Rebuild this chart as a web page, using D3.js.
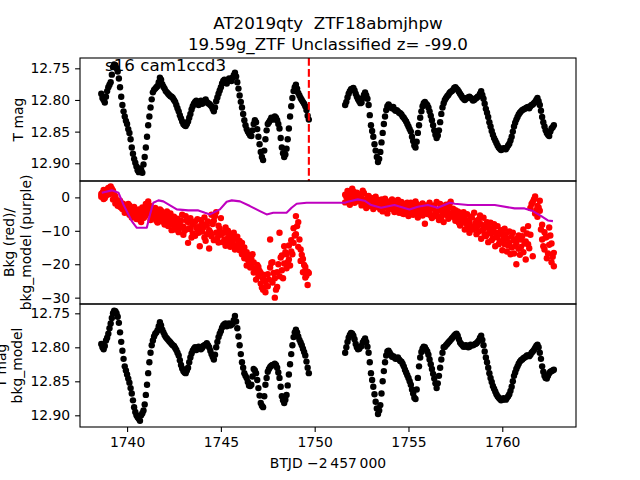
<!DOCTYPE html>
<html>
<head>
<meta charset="utf-8">
<script src="https://cdn.jsdelivr.net/npm/d3@7"></script>
<style>
  body { margin: 0; background: #fff; }
  svg { font-family: "DejaVu Sans", sans-serif; }
</style>
</head>
<body>
<div id="chart"></div>
<script>
// TESS light curve, sector 16 cam1 ccd3, two orbits (gap 1749.7 - 1751.6)
// cadences on the full steps
const times = [
  1738.625, 1738.75, 1738.875,
  1739, 1739.125, 1739.25, 1739.375, 1739.5, 1739.625, 1739.75, 1739.875,
  1740, 1740.125, 1740.25, 1740.375, 1740.5, 1740.625, 1740.75, 1740.875,
  1741, 1741.125, 1741.25, 1741.375, 1741.5, 1741.625, 1741.75, 1741.875,
  1742, 1742.125, 1742.25, 1742.375, 1742.5, 1742.625, 1742.75, 1742.875,
  1743, 1743.125, 1743.25, 1743.375, 1743.5, 1743.625, 1743.75, 1743.875,
  1744, 1744.125, 1744.25, 1744.375, 1744.5, 1744.625, 1744.75, 1744.875,
  1745, 1745.125, 1745.25, 1745.375, 1745.5, 1745.625, 1745.75, 1745.875,
  1746, 1746.125, 1746.25, 1746.375, 1746.5, 1746.625, 1746.75, 1746.875,
  1747, 1747.125, 1747.25, 1747.375, 1747.5, 1747.625, 1747.75, 1747.875,
  1748, 1748.125, 1748.25, 1748.375, 1748.5, 1748.625, 1748.75, 1748.875,
  1749, 1749.125, 1749.25, 1749.375, 1749.5, 1749.625,
  1751.625, 1751.75, 1751.875,
  1752, 1752.125, 1752.25, 1752.375, 1752.5, 1752.625, 1752.75, 1752.875,
  1753, 1753.125, 1753.25, 1753.375, 1753.5, 1753.625, 1753.75, 1753.875,
  1754, 1754.125, 1754.25, 1754.375, 1754.5, 1754.625, 1754.75, 1754.875,
  1755, 1755.125, 1755.25, 1755.375, 1755.5, 1755.625, 1755.75, 1755.875,
  1756, 1756.125, 1756.25, 1756.375, 1756.5, 1756.625, 1756.75, 1756.875,
  1757, 1757.125, 1757.25, 1757.375, 1757.5, 1757.625, 1757.75, 1757.875,
  1758, 1758.125, 1758.25, 1758.375, 1758.5, 1758.625, 1758.75, 1758.875,
  1759, 1759.125, 1759.25, 1759.375, 1759.5, 1759.625, 1759.75, 1759.875,
  1760, 1760.125, 1760.25, 1760.375, 1760.5, 1760.625, 1760.75, 1760.875,
  1761, 1761.125, 1761.25, 1761.375, 1761.5, 1761.625, 1761.75, 1761.875,
  1762, 1762.125, 1762.25, 1762.375, 1762.5, 1762.625, 1762.75
]
// cadences in between
const timesMid = [
  1738.6875, 1738.8125, 1738.9375,
  1739.0625, 1739.1875, 1739.3125, 1739.4375, 1739.5625, 1739.6875, 1739.8125, 1739.9375,
  1740.0625, 1740.1875, 1740.3125, 1740.4375, 1740.5625, 1740.6875, 1740.8125, 1740.9375,
  1741.0625, 1741.1875, 1741.3125, 1741.4375, 1741.5625, 1741.6875, 1741.8125, 1741.9375,
  1742.0625, 1742.1875, 1742.3125, 1742.4375, 1742.5625, 1742.6875, 1742.8125, 1742.9375,
  1743.0625, 1743.1875, 1743.3125, 1743.4375, 1743.5625, 1743.6875, 1743.8125, 1743.9375,
  1744.0625, 1744.1875, 1744.3125, 1744.4375, 1744.5625, 1744.6875, 1744.8125, 1744.9375,
  1745.0625, 1745.1875, 1745.3125, 1745.4375, 1745.5625, 1745.6875, 1745.8125, 1745.9375,
  1746.0625, 1746.1875, 1746.3125, 1746.4375, 1746.5625, 1746.6875, 1746.8125, 1746.9375,
  1747.0625, 1747.1875, 1747.3125, 1747.4375, 1747.5625, 1747.6875, 1747.8125, 1747.9375,
  1748.0625, 1748.1875, 1748.3125, 1748.4375, 1748.5625, 1748.6875, 1748.8125, 1748.9375,
  1749.0625, 1749.1875, 1749.3125, 1749.4375, 1749.5625, 1749.6875,
  1751.6875, 1751.8125, 1751.9375,
  1752.0625, 1752.1875, 1752.3125, 1752.4375, 1752.5625, 1752.6875, 1752.8125, 1752.9375,
  1753.0625, 1753.1875, 1753.3125, 1753.4375, 1753.5625, 1753.6875, 1753.8125, 1753.9375,
  1754.0625, 1754.1875, 1754.3125, 1754.4375, 1754.5625, 1754.6875, 1754.8125, 1754.9375,
  1755.0625, 1755.1875, 1755.3125, 1755.4375, 1755.5625, 1755.6875, 1755.8125, 1755.9375,
  1756.0625, 1756.1875, 1756.3125, 1756.4375, 1756.5625, 1756.6875, 1756.8125, 1756.9375,
  1757.0625, 1757.1875, 1757.3125, 1757.4375, 1757.5625, 1757.6875, 1757.8125, 1757.9375,
  1758.0625, 1758.1875, 1758.3125, 1758.4375, 1758.5625, 1758.6875, 1758.8125, 1758.9375,
  1759.0625, 1759.1875, 1759.3125, 1759.4375, 1759.5625, 1759.6875, 1759.8125, 1759.9375,
  1760.0625, 1760.1875, 1760.3125, 1760.4375, 1760.5625, 1760.6875, 1760.8125, 1760.9375,
  1761.0625, 1761.1875, 1761.3125, 1761.4375, 1761.5625, 1761.6875, 1761.8125, 1761.9375,
  1762.0625, 1762.1875, 1762.3125, 1762.4375, 1762.5625, 1762.6875
]

// T mag (top panel)
const tmag = [
  12.790, 12.800, 12.795,
  12.780, 12.772, 12.748, 12.745, 12.755, 12.780, 12.808, 12.826,
  12.838, 12.852, 12.875, 12.893, 12.905, 12.914, 12.910, 12.902,
  12.875, 12.840, 12.812, 12.788, 12.782, 12.778, 12.765, 12.775,
  12.782, 12.788, 12.792, 12.795, 12.800, 12.808, 12.818, 12.829,
  12.838, 12.841, 12.834, 12.822, 12.810, 12.803, 12.806, 12.804,
  12.806, 12.801, 12.803, 12.806, 12.810, 12.818, 12.802, 12.790,
  12.780, 12.770, 12.772, 12.770, 12.768, 12.765, 12.757, 12.772,
  12.793, 12.812, 12.832, 12.846, 12.853, 12.857, 12.838, 12.835,
  12.858, 12.882, 12.895, 12.862, 12.838, 12.832, 12.829, 12.826,
  12.832, 12.845, 12.875, 12.890, 12.877, 12.845, 12.810, 12.786,
  12.776, 12.789, 12.797, 12.803, 12.810, 12.825,
  12.808, 12.796, 12.786,
  12.782, 12.785, 12.795, 12.802, 12.804, 12.792, 12.793, 12.808,
  12.840, 12.858, 12.880, 12.898, 12.882, 12.852, 12.826, 12.810,
  12.810, 12.813, 12.815, 12.816, 12.820, 12.823, 12.828, 12.834,
  12.842, 12.850, 12.865, 12.875, 12.852, 12.828, 12.810, 12.803,
  12.808, 12.818, 12.832, 12.848, 12.860, 12.848, 12.822, 12.805,
  12.797, 12.792, 12.787, 12.784, 12.780, 12.784, 12.790, 12.796,
  12.800, 12.797, 12.795, 12.798, 12.800, 12.797, 12.794, 12.786,
  12.798, 12.814, 12.827, 12.842, 12.855, 12.864, 12.872, 12.877,
  12.878, 12.877, 12.875, 12.869, 12.858, 12.842, 12.831, 12.823,
  12.818, 12.815, 12.813, 12.811, 12.810, 12.807, 12.803, 12.797,
  12.808, 12.827, 12.842, 12.852, 12.857, 12.845, 12.840
]
const tmagMid = [
  12.797, 12.804, 12.786,
  12.776, 12.760, 12.744, 12.750, 12.766, 12.795, 12.818, 12.833,
  12.846, 12.862, 12.885, 12.899, 12.911, 12.908, 12.915, 12.890,
  12.858, 12.826, 12.799, 12.784, 12.780, 12.772, 12.768, 12.779,
  12.786, 12.790, 12.794, 12.797, 12.803, 12.813, 12.824, 12.834,
  12.840, 12.838, 12.828, 12.815, 12.806, 12.801, 12.808, 12.801,
  12.804, 12.799, 12.805, 12.808, 12.814, 12.812, 12.796, 12.785,
  12.774, 12.768, 12.774, 12.766, 12.770, 12.761, 12.763, 12.782,
  12.803, 12.822, 12.840, 12.850, 12.856, 12.848, 12.832, 12.846,
  12.870, 12.890, 12.880, 12.848, 12.835, 12.828, 12.831, 12.828,
  12.838, 12.860, 12.884, 12.886, 12.862, 12.826, 12.797, 12.780,
  12.782, 12.793, 12.800, 12.806, 12.816, 12.831,
  12.803, 12.790, 12.783,
  12.781, 12.790, 12.799, 12.805, 12.797, 12.788, 12.798, 12.824,
  12.849, 12.870, 12.890, 12.893, 12.867, 12.838, 12.816, 12.807,
  12.812, 12.811, 12.817, 12.818, 12.821, 12.826, 12.831, 12.838,
  12.846, 12.858, 12.872, 12.866, 12.840, 12.818, 12.805, 12.806,
  12.812, 12.825, 12.840, 12.855, 12.856, 12.835, 12.812, 12.800,
  12.794, 12.789, 12.786, 12.781, 12.782, 12.787, 12.793, 12.798,
  12.798, 12.796, 12.797, 12.801, 12.798, 12.795, 12.790, 12.792,
  12.806, 12.820, 12.835, 12.849, 12.860, 12.868, 12.875, 12.879,
  12.876, 12.878, 12.872, 12.864, 12.850, 12.836, 12.827, 12.820,
  12.816, 12.814, 12.812, 12.813, 12.808, 12.805, 12.800, 12.802,
  12.817, 12.835, 12.848, 12.855, 12.850, 12.843
]

// background flux (red)
const bkgA = [
  1.0, 2.2, 0.5,
  2.8, 1.5, 2.0, 0.3, -1.2, -2.8, -3.5, -2.2,
  -4.0, -5.2, -3.3, -4.7, -6.5, -3.6, -5.0, -4.2,
  -2.0, -1.2, -3.0, -5.6, -6.4, -4.8, -3.6, -7.2,
  -5.5, -4.2, -7.9, -6.2, -8.4, -6.8, -10.4, -7.0,
  -8.8, -5.6, -7.4, -9.5, -8.0, -11.5, -6.5, -8.6,
  -10.2, -12.0, -8.4, -9.8, -5.2, -7.0, -4.4, -8.5,
  -6.2, -10.5, -9.0, -12.2, -11.0, -13.5, -12.4, -14.2,
  -15.8, -13.6, -18.2, -16.4, -19.0, -20.6, -19.5, -22.0,
  -23.6, -25.8, -27.6, -28.4, -23.0, -21.0, -25.5, -30.0,
  -22.4, -10.6, -21.8, -14.6, -17.0, -14.4, -16.2, -9.2,
  -5.6, -7.4, -15.6, -18.4, -20.8, -26.2,
  0.8, 1.9, -2.2,
  2.6, 0.2, 1.4, -1.2, -0.3, 1.3, -0.6, 0.4,
  -2.0, -1.0, -2.8, -0.8, -3.6, -2.0, -0.4, -1.6,
  -3.4, -2.6, -4.4, -1.2, -2.8, -3.8, -2.0, -4.2,
  -3.0, -1.6, -5.2, -3.2, -4.6, -2.4, -5.4, -7.9,
  -2.8, -4.4, -3.2, -5.6, -1.4, -3.8, -6.0, -4.0,
  -2.2, -6.4, -1.3, -5.8, -3.8, -6.2, -4.6, -7.6,
  -9.6, -5.0, -7.4, -6.0, -9.2, -7.0, -10.2, -8.0,
  -6.1, -11.6, -9.0, -7.6, -12.2, -10.4, -8.6, -13.2,
  -11.0, -14.0, -12.4, -10.2, -15.0, -12.8, -20.0, -11.4,
  -14.8, -9.6, -18.6, -8.6, -3.2, -1.4, 0.3, -2.6,
  -4.0, -8.2, -15.6, -11.8, -14.2, -19.4, -16.6
]
const bkgB = [
  0.2, -0.5, 1.8,
  0.9, 3.3, -0.6, -1.8, -2.5, -1.0, -1.8, -4.6,
  -3.1, -2.4, -6.0, -2.9, -3.8, -5.6, -7.4, -6.2,
  -5.3, -4.4, -6.8, -4.0, -3.2, -7.5, -6.0, -5.0,
  -8.1, -6.6, -5.4, -9.8, -5.8, -9.2, -7.5, -9.0,
  -11.2, -9.6, -13.6, -6.2, -10.8, -7.2, -9.6, -14.6,
  -7.8, -6.0, -11.0, -15.3, -11.6, -12.8, -10.6, -13.5,
  -11.2, -13.4, -14.5, -10.0, -14.8, -12.0, -15.6, -11.8,
  -13.0, -17.0, -15.0, -20.4, -17.2, -18.4, -22.5, -24.6,
  -20.8, -22.6, -24.4, -25.0, -26.6, -12.6, -19.4, -24.2,
  -26.8, -23.6, -17.4, -19.8, -21.2, -18.6, -12.8, -13.6,
  -11.0, -14.8, -19.0, -22.4, -24.0, -22.2,
  -1.5, -0.4, 0.6,
  1.2, -1.6, -0.8, 0.9, -2.4, -1.8, -3.2, -1.4,
  -0.2, -3.5, 0.2, -1.9, -1.2, -4.2, -3.0, -4.8,
  -2.2, -0.6, -1.8, -3.0, -4.6, -1.4, -5.0, -2.8,
  -5.6, -4.4, -3.4, -1.2, -6.0, -3.8, -1.8, -3.6,
  -5.0, -1.6, -6.2, -2.4, -4.6, -6.8, -2.6, -7.4,
  -5.2, -3.0, -4.8, -3.4, -7.0, -4.2, -8.4, -5.4,
  -6.2, -8.2, -10.6, -8.8, -4.6, -11.0, -6.6, -12.4,
  -9.4, -8.6, -13.4, -10.8, -9.4, -14.6, -12.0, -10.4,
  -15.8, -9.4, -16.2, -13.6, -11.8, -16.8, -13.6, -15.4,
  -12.6, -16.4, -13.2, -14.0, -11.2, -17.6, -4.8, -5.8,
  -1.0, -12.6, -10.4, -18.2, -9.0, -13.8, -20.6
]
const bkgMid = [
  1.4, -0.2, 2.4,
  1.0, 2.6, 0.8, -0.8, -1.6, -3.0, -2.6, -3.8,
  -2.0, -4.4, -5.4, -3.8, -4.6, -6.8, -3.0, -5.8,
  -3.6, -2.4, -5.0, -4.4, -7.0, -5.6, -4.0, -6.4,
  -6.0, -8.6, -4.8, -7.2, -9.6, -6.4, -8.2, -5.2,
  -10.0, -7.0, -9.2, -12.0, -7.6, -9.0, -10.6, -6.8,
  -9.0, -13.0, -7.2, -10.4, -8.0, -5.6, -12.2, -9.4,
  -10.8, -12.6, -10.6, -13.8, -12.8, -10.6, -14.6, -13.0,
  -14.4, -16.6, -16.8, -18.6, -21.0, -17.0, -21.4, -20.2,
  -22.0, -27.0, -23.2, -26.6, -24.6, -19.6, -22.6, -27.6,
  -20.0, -18.0, -24.2, -16.4, -19.4, -20.4, -17.0, -11.4,
  -8.6, -12.6, -17.2, -20.2, -23.4, -22.6,
  0.2, 1.0, -1.0,
  1.8, -0.6, 0.6, -0.4, 2.0, -1.0, 0.0, -2.6,
  -1.4, -0.2, -2.4, -3.0, -0.6, -2.6, -1.8, -3.4,
  -1.0, -3.6, -2.4, -0.8, -3.4, -4.8, -2.6, -1.6,
  -4.0, -2.6, -4.8, -2.0, -3.0, -5.2, -4.2, -2.4,
  -4.0, -5.4, -3.0, -4.4, -5.8, -2.0, -4.6, -3.2,
  -4.2, -2.0, -5.6, -4.4, -5.6, -7.6, -6.0, -4.4,
  -7.0, -9.0, -5.8, -9.6, -7.8, -8.6, -5.4, -9.8,
  -11.0, -7.4, -10.2, -12.8, -8.0, -11.2, -14.0, -9.8,
  -12.6, -11.0, -14.4, -17.0, -10.6, -14.6, -12.2, -17.2,
  -11.6, -13.8, -10.8, -15.2, -2.0, -0.6, -3.8, -3.0,
  -9.6, -14.6, -12.0, -16.8, -11.4, -17.8
]

// background model (purple line)
const modelTimes = [
  1738.65, 1739.19, 1739.54, 1739.80, 1740.25, 1740.52, 1741.05, 1741.22, 1741.40, 1741.67,
  1741.93, 1742.65, 1743.26, 1743.80, 1744.15, 1744.42, 1744.95, 1745.31, 1745.58, 1746.02,
  1746.55, 1747.08, 1747.44, 1747.79, 1748.50, 1748.77, 1749.04, 1749.57, 1751.61, 1751.77,
  1752.30, 1752.66, 1753.01, 1753.54, 1754.25, 1755.05, 1755.50, 1756.03, 1756.56, 1757.20,
  1757.47, 1758.17, 1759.60, 1760.66, 1761.19, 1761.63, 1762.08, 1762.43, 1762.70
]
const modelValues = [
  1.4, 2.1, 1.4, -2.1, -7.1, -9.1, -9.1, -5.1, -1.6, -0.9,
  -1.2, -3.6, -3.9, -3.9, -4.6, -5.1, -3.6, -1.3, -0.9, -1.2,
  -2.6, -4.1, -5.1, -4.6, -4.6, -3.1, -1.9, -1.6, -1.6, -1.3,
  -0.6, -1.0, -2.3, -3.1, -2.3, -3.6, -2.8, -2.3, -3.1, -1.6,
  -1.9, -2.3, -2.3, -3.3, -3.3, -4.1, -5.6, -6.9, -7.1
]

// T mag - bkg_model (bottom panel)
const tmagCorr = [
  12.795, 12.803, 12.790,
  12.780, 12.765, 12.750, 12.747, 12.755, 12.778, 12.805, 12.828,
  12.840, 12.852, 12.868, 12.888, 12.900, 12.905, 12.900, 12.893,
  12.870, 12.838, 12.808, 12.790, 12.780, 12.775, 12.763, 12.774,
  12.782, 12.787, 12.791, 12.795, 12.798, 12.804, 12.812, 12.826,
  12.835, 12.838, 12.830, 12.815, 12.805, 12.800, 12.802, 12.800,
  12.801, 12.797, 12.794, 12.800, 12.810, 12.818, 12.800, 12.785,
  12.776, 12.768, 12.765, 12.767, 12.768, 12.765, 12.754, 12.772,
  12.797, 12.822, 12.838, 12.845, 12.856, 12.855, 12.832, 12.838,
  12.860, 12.882, 12.888, 12.855, 12.836, 12.829, 12.826, 12.824,
  12.830, 12.845, 12.872, 12.882, 12.870, 12.840, 12.810, 12.785,
  12.774, 12.784, 12.793, 12.802, 12.812, 12.830,
  12.808, 12.792, 12.782,
  12.780, 12.788, 12.800, 12.802, 12.798, 12.790, 12.792, 12.808,
  12.838, 12.858, 12.880, 12.898, 12.885, 12.850, 12.822, 12.806,
  12.808, 12.814, 12.815, 12.816, 12.818, 12.821, 12.828, 12.837,
  12.845, 12.855, 12.868, 12.876, 12.845, 12.815, 12.802, 12.800,
  12.806, 12.818, 12.832, 12.846, 12.860, 12.842, 12.818, 12.800,
  12.797, 12.793, 12.789, 12.785, 12.781, 12.783, 12.793, 12.797,
  12.799, 12.798, 12.799, 12.797, 12.796, 12.794, 12.790, 12.783,
  12.797, 12.815, 12.830, 12.845, 12.857, 12.865, 12.872, 12.876,
  12.877, 12.876, 12.875, 12.869, 12.858, 12.842, 12.832, 12.824,
  12.819, 12.816, 12.814, 12.812, 12.811, 12.806, 12.801, 12.796,
  12.808, 12.828, 12.842, 12.846, 12.838, 12.835, 12.833
]
const tmagCorrMid = [
  12.800, 12.798, 12.786,
  12.772, 12.757, 12.746, 12.750, 12.764, 12.792, 12.817, 12.834,
  12.846, 12.860, 12.878, 12.895, 12.903, 12.908, 12.897, 12.884,
  12.855, 12.822, 12.797, 12.784, 12.778, 12.769, 12.768, 12.778,
  12.785, 12.789, 12.793, 12.797, 12.801, 12.808, 12.819, 12.831,
  12.837, 12.834, 12.822, 12.809, 12.802, 12.804, 12.799, 12.803,
  12.798, 12.796, 12.797, 12.805, 12.814, 12.811, 12.792, 12.780,
  12.771, 12.766, 12.769, 12.765, 12.767, 12.760, 12.762, 12.784,
  12.810, 12.830, 12.842, 12.851, 12.857, 12.843, 12.834, 12.848,
  12.871, 12.886, 12.872, 12.845, 12.832, 12.827, 12.826, 12.826,
  12.837, 12.858, 12.878, 12.877, 12.856, 12.825, 12.797, 12.778,
  12.778, 12.789, 12.797, 12.807, 12.821, 12.838,
  12.800, 12.786, 12.779,
  12.783, 12.795, 12.803, 12.799, 12.793, 12.787, 12.799, 12.822,
  12.848, 12.869, 12.890, 12.893, 12.868, 12.835, 12.812, 12.805,
  12.811, 12.813, 12.817, 12.815, 12.820, 12.824, 12.833, 12.841,
  12.850, 12.862, 12.874, 12.862, 12.828, 12.807, 12.799, 12.803,
  12.811, 12.825, 12.839, 12.853, 12.853, 12.830, 12.808, 12.799,
  12.795, 12.791, 12.787, 12.783, 12.780, 12.788, 12.795, 12.799,
  12.797, 12.800, 12.796, 12.797, 12.795, 12.792, 12.786, 12.789,
  12.806, 12.822, 12.838, 12.851, 12.861, 12.869, 12.874, 12.878,
  12.875, 12.877, 12.872, 12.864, 12.850, 12.837, 12.828, 12.821,
  12.818, 12.815, 12.812, 12.813, 12.808, 12.804, 12.798, 12.800,
  12.817, 12.836, 12.845, 12.842, 12.836, 12.834
]

const xTicks = [1740, 1745, 1750, 1755, 1760]
const magTicks = [12.75, 12.80, 12.85, 12.90]
const bkgTicks = [0, -10, -20, -30]
const markerTime = 1749.69   // red dashed line

const W = 640, H = 480
const left = 80, right = 576
const tickLen = 4.9, tickPad = 4.9
const frameW = 1.1

const x = d3.scaleLinear().domain([1737.49, 1763.93]).range([left, right])

const panels = [
  { top: 58, bottom: 181, y: d3.scaleLinear().domain([12.7337, 12.928]), ticks: magTicks, fmt: d3.format('.2f') },
  { top: 181, bottom: 304, y: d3.scaleLinear().domain([4.9, -31.9]), ticks: bkgTicks, fmt: d3.format('d') },
  { top: 304, bottom: 427, y: d3.scaleLinear().domain([12.7363, 12.9172]), ticks: magTicks, fmt: d3.format('.2f') }
]
panels.forEach(p => p.y.range([p.top, p.bottom]))

const pairs = (ts, vs) => ts.map((t, i) => [t, vs[i]])

const svg = d3.select('#chart')
    .append('svg')
    .attr('width', W)
    .attr('height', H)

const defs = svg.append('defs')
panels.forEach((p, i) => {
    defs.append('clipPath').attr('id', 'clip' + i)
        .append('rect')
        .attr('x', left).attr('y', p.top)
        .attr('width', right - left).attr('height', p.bottom - p.top)
})

// top panel: T mag
const g1 = svg.append('g').attr('clip-path', 'url(#clip0)')
g1.selectAll('circle')
    .data(pairs(times, tmag).concat(pairs(timesMid, tmagMid)))
    .join('circle')
    .attr('cx', d => x(d[0]))
    .attr('cy', d => panels[0].y(d[1]))
    .attr('r', 3.2)
    .attr('fill', '#000')

g1.append('line')
    .attr('x1', x(markerTime)).attr('x2', x(markerTime))
    .attr('y1', panels[0].top).attr('y2', panels[0].bottom)
    .attr('stroke', '#ff0000')
    .attr('stroke-width', 2.1)
    .attr('stroke-dasharray', '7.7,3.3')

// middle panel: background and its model
const g2 = svg.append('g').attr('clip-path', 'url(#clip1)')
g2.selectAll('circle')
    .data(pairs(times, bkgA).concat(pairs(timesMid, bkgMid), pairs(times, bkgB)))
    .join('circle')
    .attr('cx', d => x(d[0]))
    .attr('cy', d => panels[1].y(d[1]))
    .attr('r', 3.2)
    .attr('fill', '#ff0000')

g2.append('path')
    .datum(pairs(modelTimes, modelValues))
    .attr('d', d3.line().x(d => x(d[0])).y(d => panels[1].y(d[1])))
    .attr('fill', 'none')
    .attr('stroke', '#bf00bf')
    .attr('stroke-width', 2.1)
    .attr('stroke-linejoin', 'round')

// bottom panel: corrected T mag
const g3 = svg.append('g').attr('clip-path', 'url(#clip2)')
g3.selectAll('circle')
    .data(pairs(times, tmagCorr).concat(pairs(timesMid, tmagCorrMid)))
    .join('circle')
    .attr('cx', d => x(d[0]))
    .attr('cy', d => panels[2].y(d[1]))
    .attr('r', 3.2)
    .attr('fill', '#000')

// frames and y axes
panels.forEach(p => {
    const ax = svg.append('g')
        .attr('transform', `translate(${left},0)`)
        .call(d3.axisLeft(p.y).tickValues(p.ticks).tickFormat(p.fmt)
            .tickSize(tickLen).tickPadding(tickPad))
    ax.select('.domain').remove()
    ax.selectAll('line').attr('stroke', '#000').attr('stroke-width', frameW)
    ax.selectAll('text').attr('font-size', 13.9).attr('fill', '#000')
        .attr('font-family', '"DejaVu Sans", sans-serif')

    svg.append('rect')
        .attr('x', left).attr('y', p.top)
        .attr('width', right - left).attr('height', p.bottom - p.top)
        .attr('fill', 'none')
        .attr('stroke', '#000')
        .attr('stroke-width', frameW)
})

// x axis on the bottom panel only
const xa = svg.append('g')
    .attr('transform', `translate(0,${panels[2].bottom})`)
    .call(d3.axisBottom(x).tickValues(xTicks).tickFormat(d3.format('d'))
        .tickSize(tickLen).tickPadding(tickPad))
xa.select('.domain').remove()
xa.selectAll('line').attr('stroke', '#000').attr('stroke-width', frameW)
xa.selectAll('text').attr('font-size', 13.9).attr('fill', '#000')
    .attr('font-family', '"DejaVu Sans", sans-serif')

// labels
const label = (lines, cy, baselines) => {
    lines.forEach((s, i) => {
        svg.append('text')
            .attr('transform', `translate(${baselines[i]},${cy}) rotate(-90)`)
            .attr('text-anchor', 'middle')
            .attr('font-size', 13.9)
            .text(s)
    })
}
label(['T mag'], (58 + 181) / 2, [22.5])
label(['Bkg (red)/', 'bkg_model (purple)'], (181 + 304) / 2, [14, 30.5])
label(['T mag', 'bkg_model'], (304 + 427) / 2, [5.5, 22])

svg.append('text')
    .attr('x', (left + right) / 2).attr('y', 468)
    .attr('text-anchor', 'middle')
    .attr('font-size', 13.9)
    .text('BTJD \u22122\u2009457\u2009000')

svg.append('text')
    .attr('x', (left + right) / 2).attr('y', 28.5)
    .attr('text-anchor', 'middle')
    .attr('font-size', 16.7)
    .style('white-space', 'pre')
    .text('AT2019qty  ZTF18abmjhpw')

svg.append('text')
    .attr('x', (left + right) / 2).attr('y', 50)
    .attr('text-anchor', 'middle')
    .attr('font-size', 16.7)
    .text('19.59g_ZTF Unclassified z= -99.0')

svg.append('text')
    .attr('x', 105).attr('y', 70.5)
    .attr('font-size', 16.7)
    .text('s16 cam1ccd3')
</script>
</body>
</html>
